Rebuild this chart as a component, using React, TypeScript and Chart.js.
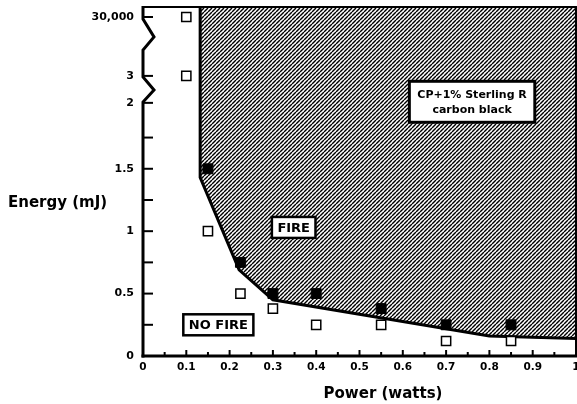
import React, { useEffect, useRef } from 'react';
import { Chart, registerables, LinearScale } from 'chart.js';

// ---------------- data ----------------
const noFireX = [0.1, 0.1, 0.15, 0.225, 0.3, 0.4, 0.55, 0.7, 0.85];
const noFireY = [30000, 3, 1.0, 0.5, 0.38, 0.25, 0.25, 0.12, 0.12];
const fireX = [0.15, 0.225, 0.3, 0.4, 0.55, 0.7, 0.85];
const fireY = [1.5, 0.75, 0.5, 0.5, 0.38, 0.25, 0.25];
const boundaryX = [0.132, 0.132, 0.222, 0.3, 0.8, 1.0];
const boundaryY = [1e6, 1.43, 0.69, 0.45, 0.16, 0.14];

const yTickValues = [0, 0.25, 0.5, 0.75, 1, 1.25, 1.5, 1.75, 2, 3, 30000];
const yTickLabels = ['0', '', '0.5', '', '1', '', '1.5', '', '2', '3', '30,000'];

// broken (discontinuous) y axis definition: energy value -> axis units
const yBreakData = [0, 1.75, 2, 3, 30000, 1e6];
const yBreakAxis = [0, 1.75, 2.028, 2.244, 2.716, 2.9];
const yAxisMax = 2.796;
// zig-zag axis breaks, in axis units [start, peak, end]
const yZigs = [
  [2.70, 2.556, 2.452],
  [2.236, 2.131, 2.035],
];

const annotTexts = [['FIRE'], ['NO FIRE'], ['CP+1% Sterling R', 'carbon black']];
const annotX = [0.348, 0.174, 0.76];
const annotY = [1.03, 0.25, 2.04];

const xTitle = 'Power (watts)';
const yTitle = 'Energy (mJ)';

const FONT = '"DejaVu Sans", "Liberation Sans", Arial, sans-serif';

function toAxis(v: number): number {
  for (let i = 1; i < yBreakData.length; i++) {
    if (v <= yBreakData[i]) {
      const a = yBreakData[i - 1], b = yBreakData[i];
      const t = (v - a) / (b - a);
      return yBreakAxis[i - 1] + t * (yBreakAxis[i] - yBreakAxis[i - 1]);
    }
  }
  return yBreakAxis[yBreakAxis.length - 1];
}

class BrokenScale extends (LinearScale as any) {
  static id = 'broken';
  static defaults = {};
  buildTicks() {
    return yTickValues.map((v) => ({ value: v }));
  }
  getPixelForValue(v: number) {
    return super.getPixelForValue(toAxis(v));
  }
  getPixelForAxis(a: number) {
    return super.getPixelForValue(a);
  }
}

Chart.register(...registerables, BrokenScale as any);

function makePattern(): CanvasPattern | string {
  const s = 4;
  const c = document.createElement('canvas');
  c.width = s;
  c.height = s;
  const g = c.getContext('2d');
  if (!g) return '#555';
  g.fillStyle = '#ffffff';
  g.fillRect(0, 0, s, s);
  g.strokeStyle = '#000000';
  g.lineWidth = 1.4;
  for (let k = -1; k <= 1; k++) {
    g.beginPath();
    g.moveTo(k * s, s);
    g.lineTo(k * s + s, 0);
    g.stroke();
  }
  const p = g.createPattern(c, 'repeat');
  return p || '#555';
}

let hatchFill: CanvasPattern | string = '#555';

const extrasPlugin = {
  id: 'extras',
  // hatched "fire" region: area above the boundary series, up to the top of the plot
  beforeDatasetsDraw(chart: any) {
    const ctx = chart.ctx as CanvasRenderingContext2D;
    const xs = chart.scales.x;
    const ys = chart.scales.y;
    const { left, right, top, bottom } = chart.chartArea;
    ctx.save();
    ctx.beginPath();
    ctx.rect(left, top, right - left, bottom - top);
    ctx.clip();
    ctx.beginPath();
    const px = boundaryX.map((v) => xs.getPixelForValue(v));
    const py = boundaryY.map((v) => ys.getPixelForValue(v));
    ctx.moveTo(px[0], top - 5);
    for (let i = 0; i < px.length; i++) ctx.lineTo(px[i], py[i]);
    ctx.lineTo(px[px.length - 1] + 5, py[py.length - 1]);
    ctx.lineTo(px[px.length - 1] + 5, top - 5);
    ctx.closePath();
    ctx.fillStyle = hatchFill as any;
    ctx.fill();
    ctx.restore();
  },
  afterDatasetsDraw(chart: any) {
    const ctx = chart.ctx as CanvasRenderingContext2D;
    const xs = chart.scales.x;
    const ys = chart.scales.y;
    ctx.save();
    annotTexts.forEach((lines, i) => {
      const big = lines.length > 1;
      const size = big ? 11 : 13;
      ctx.font = `bold ${size}px ${FONT}`;
      const tw = Math.max(...lines.map((l) => ctx.measureText(l).width));
      const w = tw + (big ? 16 : 11);
      const h = big ? 41 : 21;
      const cx = xs.getPixelForValue(annotX[i]);
      const cy = ys.getPixelForValue(annotY[i]);
      ctx.fillStyle = '#fff';
      ctx.fillRect(cx - w / 2, cy - h / 2, w, h);
      ctx.lineWidth = big ? 3 : 2.5;
      ctx.strokeStyle = '#000';
      ctx.strokeRect(cx - w / 2, cy - h / 2, w, h);
      ctx.fillStyle = '#000';
      ctx.textAlign = 'center';
      ctx.textBaseline = 'middle';
      const lh = 15;
      lines.forEach((l, j) => {
        ctx.fillText(l, cx, cy + (j - (lines.length - 1) / 2) * lh + 1);
      });
    });
    ctx.restore();
  },
  afterDraw(chart: any) {
    const ctx = chart.ctx as CanvasRenderingContext2D;
    const xs = chart.scales.x;
    const ys = chart.scales.y;
    const { left, right, top, bottom } = chart.chartArea;
    ctx.save();
    ctx.strokeStyle = '#000';
    ctx.lineCap = 'butt';

    // top and right border
    ctx.lineWidth = 2;
    ctx.beginPath();
    ctx.moveTo(left, top);
    ctx.lineTo(right, top);
    ctx.lineTo(right, bottom);
    ctx.stroke();

    // y axis with zig-zag breaks
    ctx.lineWidth = 3;
    ctx.lineJoin = 'miter';
    ctx.beginPath();
    ctx.moveTo(left, top - 1);
    yZigs.forEach(([a, p, b]) => {
      ctx.lineTo(left, ys.getPixelForAxis(a));
      ctx.lineTo(left + 11, ys.getPixelForAxis(p));
      ctx.lineTo(left, ys.getPixelForAxis(b));
    });
    ctx.lineTo(left, bottom + 1.5);
    ctx.stroke();

    // x axis
    ctx.beginPath();
    ctx.moveTo(left - 1.5, bottom);
    ctx.lineTo(right + 2, bottom);
    ctx.stroke();

    // y ticks (inward)
    ctx.lineWidth = 2;
    ys.ticks.forEach((t: any) => {
      if (t.value === 0) return;
      const py = ys.getPixelForValue(t.value);
      ctx.beginPath();
      ctx.moveTo(left, py);
      ctx.lineTo(left + 10, py);
      ctx.stroke();
    });

    // x ticks (inward)
    xs.ticks.forEach((t: any) => {
      const n = Math.round(t.value * 100);
      if (n === 0 || n === 100) return;
      const px = xs.getPixelForValue(t.value);
      const len = n % 10 === 0 ? 6 : 4;
      ctx.beginPath();
      ctx.moveTo(px, bottom);
      ctx.lineTo(px, bottom - len);
      ctx.stroke();
    });

    // titles
    ctx.fillStyle = '#000';
    ctx.font = `bold 15px ${FONT}`;
    ctx.textBaseline = 'middle';
    ctx.textAlign = 'left';
    ctx.fillText(yTitle, 8, 203);
    ctx.textAlign = 'center';
    ctx.fillText(xTitle, 383, 394);
    ctx.restore();
  },
};

export default function App() {
  const ref = useRef<HTMLCanvasElement | null>(null);
  useEffect(() => {
    if (!ref.current) return;
    hatchFill = makePattern();
    const chart = new Chart(ref.current, {
      type: 'scatter',
      data: {
        datasets: [
          {
            label: 'Fire',
            data: fireX.map((x, i) => ({ x, y: fireY[i] })),
            pointStyle: 'rect',
            pointRadius: 7,
            backgroundColor: '#000',
            borderColor: '#000',
            borderWidth: 1,
          },
          {
            label: 'No fire',
            data: noFireX.map((x, i) => ({ x, y: noFireY[i] })),
            pointStyle: 'rect',
            pointRadius: 6.5,
            backgroundColor: '#fff',
            borderColor: '#000',
            borderWidth: 1.5,
          },
          {
            type: 'line',
            label: 'Boundary',
            data: boundaryX.map((x, i) => ({ x, y: boundaryY[i] })),
            borderColor: '#000',
            borderWidth: 3,
            pointRadius: 0,
            tension: 0,
            fill: false,
          } as any,
        ],
      },
      options: {
        responsive: false,
        animation: false,
        devicePixelRatio: 1,
        layout: { autoPadding: false, padding: { left: 0, top: 7, right: 1, bottom: 0 } },
        plugins: {
          legend: { display: false },
          tooltip: { enabled: false },
        },
        scales: {
          x: {
            type: 'linear',
            min: 0,
            max: 1,
            grid: { display: false, drawTicks: false },
            border: { display: false },
            ticks: {
              stepSize: 0.05,
              autoSkip: false,
              maxRotation: 0,
              minRotation: 0,
              padding: 5,
              color: '#000',
              font: { family: FONT, size: 10.5, weight: 'bold' },
              callback: (v: any) => {
                const n = Math.round(Number(v) * 100);
                return n % 10 === 0 ? String(n / 100) : '';
              },
            },
            afterFit: (s: any) => {
              s.height = 48;
              s.paddingLeft = 0;
              s.paddingRight = 0;
            },
          },
          y: {
            type: 'broken' as any,
            min: 0,
            max: yAxisMax,
            grid: { display: false, drawTicks: false },
            border: { display: false },
            ticks: {
              autoSkip: false,
              padding: 9,
              color: '#000',
              font: { family: FONT, size: 11, weight: 'bold' },
              callback: (_v: any, i: number) => yTickLabels[i],
            },
            afterFit: (s: any) => {
              s.width = 143;
              s.paddingTop = 0;
              s.paddingBottom = 0;
            },
          } as any,
        },
      },
      plugins: [extrasPlugin],
    });
    return () => chart.destroy();
  }, []);
  return (
    <div style={{ position: 'absolute', left: 0, top: 0, width: 577, height: 404, background: '#fff' }}>
      <canvas ref={ref} width={577} height={404} style={{ display: 'block' }} />
    </div>
  );
}
